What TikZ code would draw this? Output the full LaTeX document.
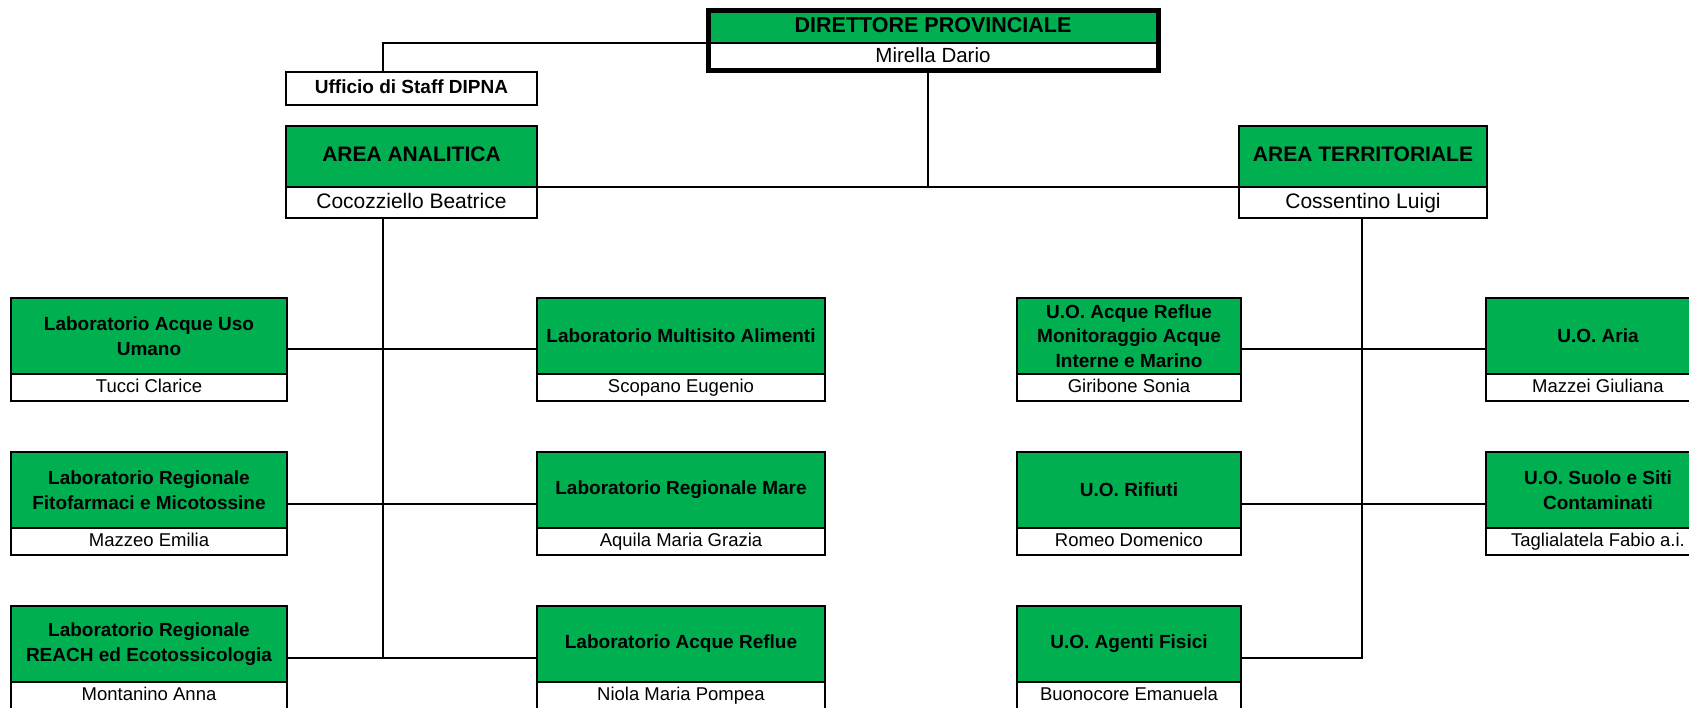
\documentclass[tikz,border=0pt]{standalone}
\usepackage{fontspec}
\setmainfont{Liberation Sans}
\definecolor{orggreen}{HTML}{00B050}
\begin{document}
\begin{tikzpicture}[x=1pt,y=-1pt,
  conn/.style={draw=black,line width=2pt},
  boxbase/.style={draw=black,line width=2pt,anchor=north west,inner sep=0pt,outer sep=0pt,align=center},
  labtitle/.style={boxbase,fill=orggreen,minimum height=76pt,font=\fontsize{19}{24.5}\selectfont\bfseries},
  labname/.style={boxbase,fill=white,minimum height=27pt,text height=13.5pt,text depth=4pt,font=\fontsize{18.5}{22}\selectfont},
  lastname/.style={labname,minimum height=34pt,text depth=11pt},
  areatitle/.style={boxbase,fill=orggreen,minimum height=61.5pt,text height=15pt,text depth=4.5pt,font=\fontsize{21}{25}\selectfont\bfseries},
  areaname/.style={boxbase,fill=white,minimum height=31pt,text height=15pt,text depth=4.5pt,font=\fontsize{21}{25}\selectfont},
]
\useasboundingbox (0,0) rectangle (1689,708);

% trunk x positions
\coordinate (jL) at (383,0);
\coordinate (jD) at (928,0);
\coordinate (jR) at (1362,0);
% row connector levels
\coordinate (r1) at (0,349.5);
\coordinate (r2) at (0,503.5);
\coordinate (r3) at (0,658);

% Director
\node[boxbase,fill=orggreen,minimum width=450pt,minimum height=32pt,text height=15pt,text depth=4.5pt,font=\fontsize{21.5}{25}\selectfont\bfseries] (dirt) at (708,11) {DIRETTORE PROVINCIALE};
\node[boxbase,fill=white,minimum width=450pt,minimum height=28pt,text height=15pt,text depth=4.5pt,font=\fontsize{20.5}{24}\selectfont] (dirn) at (708,43) {Mirella Dario};
\draw[line width=5pt] (dirt.north west) rectangle (dirn.south east);

% Staff
\node[boxbase,fill=white,minimum width=251pt,minimum height=33pt,text height=14pt,text depth=4pt,font=\fontsize{19}{23}\selectfont\bfseries] (staff) at (286,72) {Ufficio di Staff DIPNA};

% Areas
\node[areatitle,minimum width=251pt] (aat) at (286,126) {AREA ANALITICA};
\node[areaname,minimum width=251pt] (aan) at (286,187.5) {Cocozziello Beatrice};
\node[areatitle,minimum width=248pt] (att) at (1239,126) {AREA TERRITORIALE};
\node[areaname,minimum width=248pt] (atn) at (1239,187.5) {Cossentino Luigi};

% Left column
\node[labtitle,minimum width=276pt] (l1t) at (11,298) {Laboratorio Acque Uso\\Umano};
\node[labname,minimum width=276pt] (l1n) at (11,374) {Tucci Clarice};
\node[labtitle,minimum width=276pt] (l2t) at (11,452) {Laboratorio Regionale\\Fitofarmaci e Micotossine};
\node[labname,minimum width=276pt] (l2n) at (11,528) {Mazzeo Emilia};
\node[labtitle,minimum width=276pt] (l3t) at (11,606) {Laboratorio Regionale\\REACH ed Ecotossicologia};
\node[lastname,minimum width=276pt] (l3n) at (11,682) {Montanino Anna};

% Mid-left column
\node[labtitle,minimum width=288pt] (m1t) at (537,298) {Laboratorio Multisito Alimenti};
\node[labname,minimum width=288pt] (m1n) at (537,374) {Scopano Eugenio};
\node[labtitle,minimum width=288pt] (m2t) at (537,452) {Laboratorio Regionale Mare};
\node[labname,minimum width=288pt] (m2n) at (537,528) {Aquila Maria Grazia};
\node[labtitle,minimum width=288pt] (m3t) at (537,606) {Laboratorio Acque Reflue};
\node[lastname,minimum width=288pt] (m3n) at (537,682) {Niola Maria Pompea};

% Mid-right column
\node[labtitle,minimum width=224pt] (u1t) at (1017,298) {U.O. Acque Reflue\\Monitoraggio Acque\\Interne e Marino};
\node[labname,minimum width=224pt] (u1n) at (1017,374) {Giribone Sonia};
\node[labtitle,minimum width=224pt] (u2t) at (1017,452) {U.O. Rifiuti};
\node[labname,minimum width=224pt] (u2n) at (1017,528) {Romeo Domenico};
\node[labtitle,minimum width=224pt] (u3t) at (1017,606) {U.O. Agenti Fisici};
\node[lastname,minimum width=224pt] (u3n) at (1017,682) {Buonocore Emanuela};

% Right column
\node[labtitle,minimum width=224pt] (v1t) at (1486,298) {U.O. Aria};
\node[labname,minimum width=224pt] (v1n) at (1486,374) {Mazzei Giuliana};
\node[labtitle,minimum width=224pt] (v2t) at (1486,452) {U.O. Suolo e Siti\\Contaminati};
\node[labname,minimum width=224pt] (v2n) at (1486,528) {Taglialatela Fabio a.i.};

% Connectors
\draw[conn] (dirt.south west) -| (staff.north -| jL);
\draw[conn] (dirn.south -| jD) -- (aat.south east -| jD);
\draw[conn] (aat.south east) -- (att.south west);
\draw[conn] (aan.south -| jL) -- (r3 -| jL);
\draw[conn] (l1t.east |- r1) -- (m1t.west |- r1);
\draw[conn] (l2t.east |- r2) -- (m2t.west |- r2);
\draw[conn] (l3t.east |- r3) -- (m3t.west |- r3);
\draw[conn] (atn.south -| jR) -- (r3 -| jR) -- (u3t.east |- r3);
\draw[conn] (u1t.east |- r1) -- (v1t.west |- r1);
\draw[conn] (u2t.east |- r2) -- (v2t.west |- r2);
\end{tikzpicture}
\end{document}
